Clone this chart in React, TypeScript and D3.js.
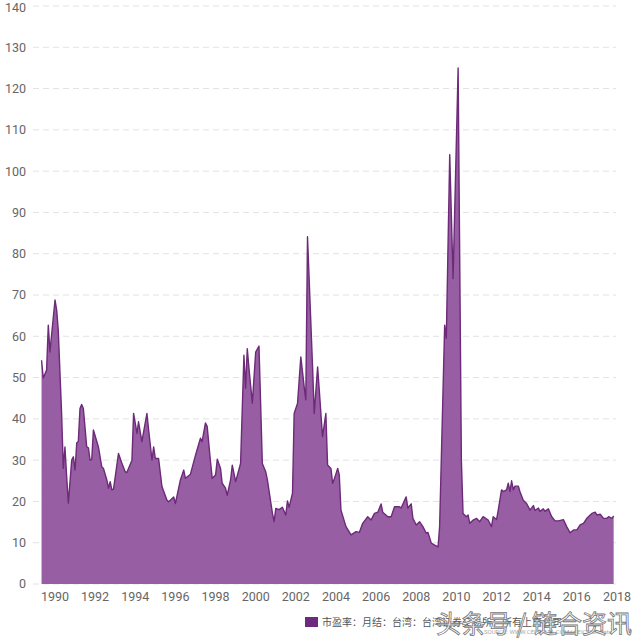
import React from "react";
import * as d3 from "d3";

const dates: string[] = [
  "1989-05","1989-06","1989-08","1989-09","1989-10","1990-01","1990-02","1990-03","1990-05","1990-06",
  "1990-07","1990-08","1990-09","1990-11","1990-12","1991-01","1991-02","1991-03","1991-04","1991-05",
  "1991-06","1991-08","1991-09","1991-10","1991-11","1991-12","1992-03","1992-05","1992-06","1992-08",
  "1992-09","1992-10","1992-11","1992-12","1993-03","1993-05","1993-07","1993-08","1993-11","1993-12",
  "1994-02","1994-03","1994-05","1994-08","1994-09","1994-11","1994-12","1995-01","1995-03","1995-05",
  "1995-08","1995-09","1995-12","1996-01","1996-04","1996-06","1996-07","1996-10","1997-01","1997-04",
  "1997-05","1997-07","1997-08","1997-10","1997-11","1998-01","1998-02","1998-04","1998-05","1998-07",
  "1998-08","1998-10","1998-11","1999-01","1999-04","1999-06","1999-07","1999-08","1999-09","1999-11",
  "2000-01","2000-03","2000-05","2000-07","2000-08","2000-11","2000-12","2001-01","2001-03","2001-05",
  "2001-07","2001-08","2001-09","2001-11","2001-12","2002-02","2002-04","2002-06","2002-07","2002-08",
  "2002-11","2002-12","2003-02","2003-03","2003-05","2003-07","2003-08","2003-10","2003-11","2003-12",
  "2004-02","2004-03","2004-04","2004-07","2004-10","2005-01","2005-03","2005-05","2005-08","2005-10",
  "2005-12","2006-02","2006-04","2006-05","2006-08","2006-10","2006-12","2007-03","2007-04","2007-07",
  "2007-08","2007-10","2007-11","2008-01","2008-03","2008-05","2008-07","2008-08","2008-10","2008-12",
  "2009-02","2009-03","2009-06","2009-07","2009-09","2009-11","2010-02","2010-03","2010-04","2010-05",
  "2010-07","2010-08","2010-09","2010-11","2011-01","2011-03","2011-05","2011-08","2011-10","2011-11",
  "2012-01","2012-02","2012-04","2012-05","2012-07","2012-08","2012-09","2012-10","2012-11","2012-12",
  "2013-02","2013-03","2013-05","2013-07","2013-09","2013-11","2013-12","2014-02","2014-03","2014-05",
  "2014-06","2014-08","2014-10","2014-12","2015-02","2015-05","2015-07","2015-09","2015-11","2016-01",
  "2016-03","2016-05","2016-07","2016-10","2016-12","2017-01","2017-03","2017-05","2017-07","2017-08",
  "2017-10","2017-11"
];

const peValues: number[] = [
  54.2,49.9,51.8,62.7,56.2,68.8,66.3,61.5,41.4,28.0,
  33.2,26.0,19.6,30.0,30.8,27.6,34.2,34.5,42.5,43.5,
  42.5,33.2,33.0,30.0,30.2,37.3,33.2,28.4,28.0,25.2,
  23.2,24.8,22.8,23.0,31.6,29.3,27.2,27.0,30.0,41.3,
  36.5,39.3,34.5,41.3,37.3,30.0,33.2,30.4,30.4,23.6,
  20.3,19.9,21.1,19.5,25.2,27.6,25.6,26.6,31.2,35.3,
  34.5,39.0,38.2,29.6,25.6,26.4,30.2,28.0,24.4,23.2,
  21.5,25.2,28.8,24.8,29.2,55.4,47.4,57.0,52.2,43.8,
  56.2,57.6,29.2,27.2,25.2,17.1,15.1,18.3,18.0,18.6,
  16.7,20.1,18.6,22.0,41.3,43.8,55.0,47.8,44.6,84.1,
  52.6,41.3,52.6,47.4,35.7,41.3,28.8,28.0,24.4,25.4,
  28.0,26.4,17.9,13.9,11.9,12.7,12.5,14.7,16.3,15.5,
  17.1,17.4,19.4,17.4,16.3,16.3,18.7,18.7,18.4,21.1,
  18.4,19.4,15.9,14.3,15.1,13.9,12.3,12.5,9.9,9.4,
  9.0,13.9,62.7,59.5,104.0,74.0,125.0,80.0,30.0,17.1,
  16.3,16.7,14.7,15.5,15.9,15.1,16.3,15.5,13.9,16.3,
  15.6,17.9,22.8,22.4,22.8,24.4,22.4,25.0,22.8,23.7,
  23.7,22.4,20.3,19.5,17.9,19.0,17.8,18.4,17.6,18.2,
  17.6,18.2,16.3,15.3,15.3,15.6,13.9,12.4,13.1,13.1,
  14.3,14.7,15.9,17.1,17.4,16.7,16.9,15.9,15.9,16.3,
  15.9,16.5
];

const yTicks: number[] = [0, 10, 20, 30, 40, 50, 60, 70, 80, 90, 100, 110, 120, 130, 140];
const xTickYears: number[] = [1990, 1992, 1994, 1996, 1998, 2000, 2002, 2004, 2006, 2008, 2010, 2012, 2014, 2016, 2018];
const legendLabel = "市盈率：月结：台湾：台湾证券交易所：所有上市公司";
const sourceLabel = "SOURCE: WWW.CEICDATA.COM | CEIC Generate";
const watermark = "头条号 / 链合资讯";

const parse = d3.timeParse("%Y-%m");

export default function App() {
  const W = 640, H = 640;
  const x = d3.scaleTime()
    .domain([new Date(1990, 0, 1), new Date(2018, 0, 1)])
    .range([55, 617]);
  const y = d3.scaleLinear().domain([0, 140]).range([584, 6]);

  const data = dates.map((d, i) => ({ date: parse(d) as Date, v: peValues[i] }));

  const area = d3.area<{ date: Date; v: number }>()
    .x(d => x(d.date))
    .y0(y(0))
    .y1(d => y(d.v));
  const line = d3.line<{ date: Date; v: number }>()
    .x(d => x(d.date))
    .y(d => y(d.v));

  const font = "Roboto, 'Noto Sans CJK SC', sans-serif";

  return (
    <svg width={W} height={H} viewBox={`0 0 ${W} ${H}`}
      style={{ position: "absolute", left: 0, top: 0, background: "#fff" }}>
      <rect x={0} y={0} width={W} height={H} fill="#fff" />
      {yTicks.map(t => (
        <g key={t}>
          <line x1={33} x2={616} y1={y(t)} y2={y(t)} stroke="#e2e2e2" strokeWidth={1} strokeDasharray="6,4" />
          <text x={26} y={Math.max(y(t), 8)} dy="0.35em" textAnchor="end" fontFamily={font} fontSize={12.5} fill="#666">{t}</text>
        </g>
      ))}
      <path d={area(data) ?? ""} fill="#985ea3" />
      <path d={line(data) ?? ""} fill="none" stroke="#6c2a78" strokeWidth={1.4} strokeLinejoin="round" />
      {xTickYears.map(yr => (
        <text key={yr} x={x(new Date(yr, 0, 1))} y={601} textAnchor="middle" fontFamily={font} fontSize={12.5} fill="#666">{yr}</text>
      ))}
      <rect x={305} y={617} width={13} height={10} fill="#6d2a7e" />
      <text x={322} y={626} fontFamily={font} fontSize={10} fill="#555">{legendLabel}</text>
      <text x={612} y={634} textAnchor="end" fontFamily={font} fontSize={6} fill="#aaa">{sourceLabel}</text>
      <text x={632} y={633} textAnchor="end" fontFamily="'Noto Sans CJK SC', sans-serif" fontSize={25}
        fill="#ffffff" fillOpacity={0.85} stroke="#777" strokeWidth={0.8}>{watermark}</text>
    </svg>
  );
}
